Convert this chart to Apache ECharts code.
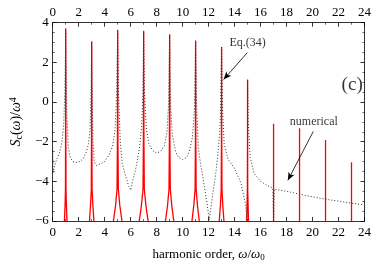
<!DOCTYPE html>
<html><head><meta charset="utf-8">
<script src="https://cdn.jsdelivr.net/npm/echarts@6/dist/echarts.min.js"></script>
<style>html,body{margin:0;padding:0;background:#fff}#c{width:374px;height:267px}</style>
</head><body><div id="c"></div>
<script>
// x-axis ticks (harmonic order) and y-axis ticks
const xTicks = [0,2,4,6,8,10,12,14,16,18,20,22,24];
const yTicks = [-6,-4,-2,0,2,4];

// Eq.(34): red resonance spikes at odd harmonics (x, log value); null breaks
const eq34 = [
 [0.9,-6],[0.95,-5.2],[0.98,-4.4],[0.988,-2],[1,3.72],[1.012,-2],[1.02,-4.4],[1.05,-5.2],[1.1,-6],null,
 [2.83,-6],[2.91,-5.2],[2.97,-4.4],[2.985,-2],[3,3.07],[3.015,-2],[3.03,-4.4],[3.09,-5.2],[3.17,-6],null,
 [4.67,-6],[4.84,-5.2],[4.95,-4.4],[4.98,-2],[5,3.64],[5.02,-2],[5.05,-4.4],[5.16,-5.2],[5.33,-6],null,
 [6.66,-6],[6.83,-5.2],[6.95,-4.4],[6.98,-2],[7,3.6],[7.02,-2],[7.05,-4.4],[7.17,-5.2],[7.34,-6],null,
 [8.68,-6],[8.84,-5.2],[8.95,-4.4],[8.98,-2],[9,3.41],[9.02,-2],[9.05,-4.4],[9.16,-5.2],[9.32,-6],null,
 [10.72,-6],[10.86,-5.2],[10.96,-4.4],[10.985,-2],[11,3.1],[11.015,-2],[11.04,-4.4],[11.14,-5.2],[11.28,-6],null,
 [12.82,-6],[12.91,-5.2],[12.97,-4.4],[12.99,-2],[13,2.77],[13.01,-2],[13.03,-4.4],[13.09,-5.2],[13.18,-6],null,
 [14.93,-6],[14.96,-5.2],[14.99,-4.4],[14.996,-2],[15,1.13],[15.004,-2],[15.01,-4.4],[15.04,-5.2],[15.07,-6],null,
 [17,-6],[17,-1.09],null,
 [19,-6],[19,-1.32],null,
 [21,-6],[21,-1.91],null,
 [23,-6],[23,-3.04]
];

// numerical result: black dotted curve
const numerical = [
 [0,-2.45],[0.04,-3.55],[0.15,-3.2],[0.3,-2.9],[0.5,-2.6],[0.65,-2.2],[0.75,-1.8],[0.85,-1.0],[0.93,0.5],[0.98,2.5],[1.0,3.6],[1.02,2.5],[1.08,-0.5],
 [1.2,-2.3],[1.35,-2.8],[1.55,-3.0],[1.8,-3.05],[2.1,-3.0],[2.35,-2.85],[2.6,-2.5],[2.75,-2.1],[2.87,-1.4],[2.95,0.5],[3.0,3.0],[3.04,0.5],
 [3.1,-2.0],[3.2,-3.0],[3.35,-3.2],[3.5,-3.2],[3.75,-3.1],[4.0,-3.0],[4.3,-2.7],[4.6,-2.25],[4.8,-1.4],[4.92,0.5],[5.0,3.55],[5.06,0.5],
 [5.2,-2.0],[5.35,-3.1],[5.6,-3.7],[5.85,-4.25],[6.0,-4.45],[6.15,-4.0],[6.35,-3.5],[6.55,-2.8],[6.7,-2.2],[6.85,-1.2],[6.95,0.8],[7.0,3.55],[7.05,0.8],
 [7.2,-1.3],[7.4,-2.1],[7.7,-2.45],[8.0,-2.57],[8.3,-2.5],[8.6,-2.2],[8.8,-1.5],[8.92,0],[9.0,3.4],[9.06,0],
 [9.2,-1.6],[9.45,-2.5],[9.7,-2.8],[10.0,-2.9],[10.3,-2.8],[10.55,-2.4],[10.75,-1.8],[10.9,-0.5],[11.0,3.05],[11.07,0],
 [11.2,-2.3],[11.4,-3.2],[11.6,-3.95],[11.85,-5.0],[12.05,-5.95],[12.2,-5.2],[12.35,-4.5],[12.55,-3.6],[12.75,-2.4],[12.9,-1.0],[13.0,2.75],[13.08,-0.5],
 [13.2,-2.1],[13.5,-2.9],[14.0,-3.35],[14.5,-4.1],[14.85,-5.2],[14.97,-6],[15.0,1.1],[15.05,-1.0],
 [15.2,-2.8],[15.5,-3.6],[16.0,-4.0],[16.5,-4.2],[16.95,-4.35],[17.0,-6.1],[17.05,-4.4],[17.5,-4.45],
 [18,-4.5],[19,-4.65],[20,-4.78],[21,-4.9],[22,-5.0],[23,-5.1],[24,-5.19]
];

// annotation texts and arrows (data coordinates)
const labels = [[15.0,3.0,'Eq.(34)'],[20.1,-0.98,'numerical'],[23.05,0.86,'(c)']];
const arrows = [[[14.98,2.49],[13.15,1.13]],[[20.06,-1.48],[18.1,-3.95]]];

const FONT = 'Liberation Serif';
const chart = echarts.init(document.getElementById('c'), null, {renderer:'canvas'});
const tickStyle = {show:true, inside:true, length:4, lineStyle:{color:'#000', width:0.8}};
const minorStyle = {show:true, splitNumber:2, length:2, lineStyle:{color:'#000', width:0.6}};
const minus = v => String(v).replace('-', '\u2212');
const axisX = (pos, withLabel, extra) => Object.assign({
  type:'value', position:pos, min:xTicks[0], max:xTicks[xTicks.length-1], interval:2,
  axisLine:{show:true, onZero:false, lineStyle:{color:'#000', width:0.8}},
  axisTick:tickStyle, minorTick:minorStyle, splitLine:{show:false},
  axisLabel:{show:withLabel, fontFamily:FONT, fontSize:13, color:'#000', margin:5, formatter:minus}
}, extra||{});
const axisY = (pos, withLabel, extra) => Object.assign({
  type:'value', position:pos, min:yTicks[0], max:yTicks[yTicks.length-1], interval:2,
  axisLine:{show:true, onZero:false, lineStyle:{color:'#000', width:0.8}},
  axisTick:tickStyle, minorTick:Object.assign({}, minorStyle, {splitNumber:4}), splitLine:{show:false},
  axisLabel:{show:withLabel, fontFamily:FONT, fontSize:13, color:'#000', margin:4, formatter:minus}
}, extra||{});

chart.setOption({
  animation:false,
  grid:{left:38.5, right:7.5, top:22.7, bottom:41.3, containLabel:false},
  xAxis:[
    axisX('bottom', true, {name:'harmonic order, {i|ω}/{i|ω}{sub|0}', nameLocation:'middle', nameGap:26,
      nameTextStyle:{fontFamily:FONT, fontSize:13, color:'#000',
        rich:{i:{fontFamily:FONT, fontStyle:'italic', fontSize:13}, sub:{fontFamily:FONT, fontSize:9, verticalAlign:'bottom', padding:[6,0,0,0]}}}}),
    axisX('top', true, {axisLabel:{show:true, fontFamily:FONT, fontSize:13, color:'#000', margin:4}})
  ],
  yAxis:[
    axisY('left', true, {name:'{i|S}{sub|c}({i|ω})/{i|ω}{sup|4}', nameLocation:'middle', nameGap:26, nameRotate:90,
      nameTextStyle:{fontFamily:FONT, fontSize:14, color:'#000',
        rich:{i:{fontFamily:FONT, fontStyle:'italic', fontSize:14}, sub:{fontFamily:FONT, fontSize:10, padding:[6,0,0,0]}, sup:{fontFamily:FONT, fontSize:10, padding:[0,0,6,0]}}}}),
    axisY('right', false)
  ],
  series:[
    {type:'line', name:'Eq.(34)', data:eq34, showSymbol:false, connectNulls:false, clip:true,
     lineStyle:{color:'#ff0000', width:1.3}, z:2},
    {type:'line', name:'numerical', data:numerical, showSymbol:false, clip:true,
     lineStyle:{color:'#333', width:1, type:[1,2]}, z:3,
     markLine:{silent:true, symbol:['none','arrow'], symbolSize:[5,8], label:{show:false},
       lineStyle:{color:'#000', width:0.8, type:'solid'},
       data: arrows.map(a => [{coord:a[0]},{coord:a[1]}])}},
    {type:'scatter', data:labels.map((d,i)=> i===2 ? {value:d, label:{fontSize:19}} : {value:d}), symbolSize:0, z:4,
     label:{show:true, position:'inside', formatter:p => p.value[2], fontFamily:FONT, color:'#000', fontSize:12}}
  ]
});
</script></body></html>
